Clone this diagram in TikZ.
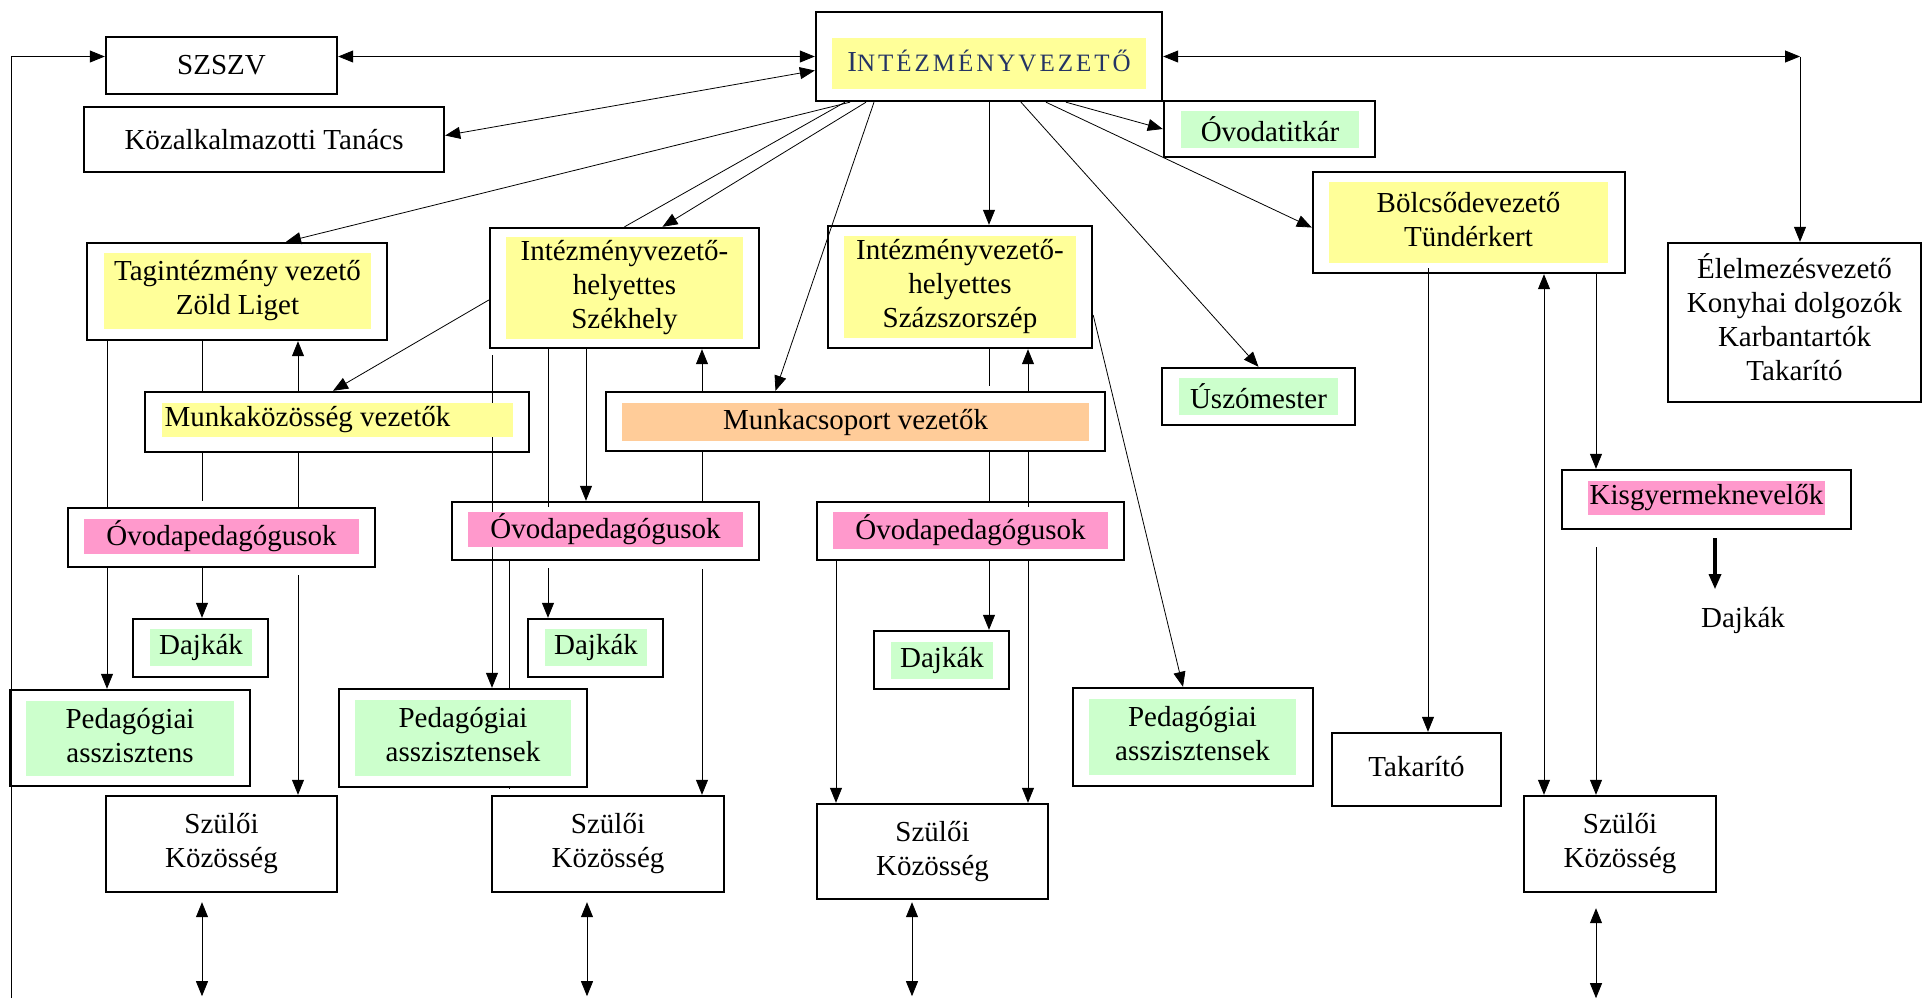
\documentclass[tikz,border=0pt]{standalone}
\usepackage{fontspec}
\setmainfont{Liberation Serif}
\usetikzlibrary{arrows.meta,backgrounds}

\definecolor{hlyellow}{HTML}{FFFF99}
\definecolor{hlgreen}{HTML}{CCFFCC}
\definecolor{hlpink}{HTML}{FF99CC}
\definecolor{hlorange}{HTML}{FFCC99}
\definecolor{ivblue}{RGB}{36,52,100}

\newcommand{\stack}[1]{\begin{tabular}{@{}c@{}}#1\end{tabular}}

\tikzset{
  box/.style 2 args={minimum width=#1*0.5pt, minimum height=#2*0.5pt, inner sep=0pt},
  frame/.style={draw, line width=1.2pt},
  hl/.style={fill=#1},
}

\begin{document}
\begin{tikzpicture}[x=0.5pt, y=-0.5pt, line width=1pt,
  >={Triangle[length=7.5pt,width=6pt]},
  every node/.style={font=\fontsize{14.5}{17}\selectfont}]

  \useasboundingbox (0,0) rectangle (1924,998);

  \foreach \c in {11,107,202,298,492,509,548,586,587,702,836,912,989,1028,1428,1544,1596,1715,1800}
    \coordinate (v\c) at (\c,0);

  % frames
  \node[frame, box={346}{89}] (iv) at (989,56.5) {};
  \node[frame, box={231}{57}] (szszv) at (221.5,65.5) {SZSZV};
  \node[frame, box={360}{65}] (kt) at (264,139.5) {Közalkalmazotti Tanács};
  \node[frame, box={211}{56}] (otitk) at (1269.5,129) {};
  \node[frame, box={312}{101}] (bolcs) at (1469,222.5) {};
  \node[frame, box={253}{159}] (elel) at (1794.5,322.5) {\stack{Élelmezésvezető\\Konyhai dolgozók\\Karbantartók\\Takarító}};
  \node[frame, box={300}{97}] (tag) at (237,291.5) {};
  \node[frame, box={269}{120}] (ivh1) at (624.5,288) {};
  \node[frame, box={264}{122}] (ivh2) at (960,287) {};
  \node[frame, box={193}{57}] (uszo) at (1258.5,396.5) {};
  \node[frame, box={384}{60}] (mkv) at (337,422) {};
  \node[frame, box={499}{59}] (mcs) at (855.5,421.5) {};
  \node[frame, box={307}{59}] (ov1) at (221.5,537.5) {};
  \node[frame, box={307}{58}] (ov2) at (605.5,531) {};
  \node[frame, box={307}{58}] (ov3) at (970.5,531) {};
  \node[frame, box={289}{59}] (kisgy) at (1706.5,499.5) {};
  \node[frame, box={135}{58}] (dajk1) at (200.5,648) {};
  \node[frame, box={135}{58}] (dajk2) at (595.5,648) {};
  \node[frame, box={135}{58}] (dajk3) at (941.5,660) {};
  \node[frame, box={240}{96}] (pa1) at (130,738) {};
  \node[frame, fill=white, box={248}{98}] (pa2) at (463,738) {};
  \node[frame, box={240}{98}] (pa3) at (1193,737) {};
  \node[frame, box={169}{73}] (takar) at (1416.5,769.5) {\raisebox{3pt}{Takarító}};
  \node[frame, box={231}{96}] (sz1) at (221.5,844) {\stack{Szülői\\Közösség}};
  \node[frame, box={232}{96}] (sz2) at (608,844) {\stack{Szülői\\Közösség}};
  \node[frame, box={231}{95}] (sz3) at (932.5,851.5) {\stack{Szülői\\Közösség}};
  \node[frame, box={192}{96}] (sz4) at (1620,844) {\stack{Szülői\\Közösség}};
  \node (dajk4) at (1743,620) {Dajkák};

  % highlighted texts
  \node[hl=hlyellow, box={314}{51}] (iv-t) at (989,63.5)
    {\raisebox{2.5pt}{\color{ivblue}I\fontsize{12.5}{14}\selectfont\addfontfeature{LetterSpace=12}NTÉZMÉNYVEZETŐ}};
  \node[hl=hlgreen, box={178}{37}] (otitk-t) at (1270,129.5) {Óvodatitkár};
  \node[hl=hlyellow, box={279}{81}] (bolcs-t) at (1468.5,222.5) {\stack{Bölcsődevezető\\Tündérkert}};
  \node[hl=hlyellow, box={267}{76}] (tag-t) at (237.5,291) {\stack{Tagintézmény vezető\\Zöld Liget}};
  \node[hl=hlyellow, box={237}{98}] (ivh1-t) at (624.5,288) {\stack{Intézményvezető-\\helyettes\\Székhely}};
  \node[hl=hlyellow, box={232}{100}] (ivh2-t) at (960,287) {\stack{Intézményvezető-\\helyettes\\Százszorszép}};
  \node[hl=hlgreen, box={159}{37}] (uszo-t) at (1258.5,396.5) {Úszómester};
  \node[hl=hlyellow, box={351}{34}] (mkv-t) at (337.5,420) {\makebox[173pt][l]{Munkaközösség vezetők}};
  \node[hl=hlorange, box={467}{38}] (mcs-t) at (855.5,422) {Munkacsoport vezetők};
  \node[hl=hlpink, box={275}{35}] (ov1-t) at (221.5,536.5) {Óvodapedagógusok};
  \node[hl=hlpink, box={275}{35}] (ov2-t) at (605.5,529.5) {Óvodapedagógusok};
  \node[hl=hlpink, box={275}{37}] (ov3-t) at (970.5,530.5) {Óvodapedagógusok};
  \node[hl=hlpink, box={237}{34}] (kisgy-t) at (1706.5,498) {Kisgyermeknevelők};
  \node[hl=hlgreen, box={102}{37}] (dajk1-t) at (201,647.5) {Dajkák};
  \node[hl=hlgreen, box={102}{37}] (dajk2-t) at (596,647.5) {Dajkák};
  \node[hl=hlgreen, box={102}{37}] (dajk3-t) at (942,660.5) {Dajkák};
  \node[hl=hlgreen, box={208}{75}] (pa1-t) at (130,738.5) {\stack{Pedagógiai\\asszisztens}};
  \node[hl=hlgreen, box={216}{76}] (pa2-t) at (463,738) {\stack{Pedagógiai\\asszisztensek}};
  \node[hl=hlgreen, box={207}{76}] (pa3-t) at (1192.5,737) {\stack{Pedagógiai\\asszisztensek}};

  % connectors
  \begin{scope}[on background layer]
    \draw[->] (11,998) -- (v11 |- iv.west) -- (szszv.west |- iv.west);
    \draw[<->] (szszv.east |- iv.west) -- (iv.west);
    \draw[<->] ([yshift=2pt]kt.east) -- ([yshift=-7pt]iv.west);
    \draw[<->] (iv.east) -- (v1800 |- iv.east);
    \draw[->] (v1800 |- iv.east) -- (v1800 |- elel.north);

    \draw[->] ([xshift=-69.5pt]iv.south) -- ([xshift=24.5pt]tag.north);
    \draw ([xshift=-72pt]iv.south) -- (ivh1.north);
    \draw[->] ([xshift=-61.5pt]iv.south) -- ([xshift=19pt]ivh1.north);
    \draw[->] ([xshift=-57.5pt]iv.south) -- ([xshift=-40pt]mcs.north);
    \draw[->] (iv.south) -- (iv.south |- ivh2.north);
    \draw[->] ([xshift=16pt]iv.south) -- (uszo.north);
    \draw[->] ([xshift=28.5pt]iv.south) -- ([yshift=-2.5pt]bolcs.west);
    \draw[->] ([xshift=38.5pt]iv.south) -- (otitk.west);
    \draw[->] ([yshift=-6pt]ivh1.west) -- ([xshift=-2pt]mkv.north);
    \draw[->] ([yshift=-14pt]ivh2.east) -- ([xshift=-5pt]pa3.north);

    % Zöld Liget
    \draw (v107 |- tag.south) -- (v107 |- ov1.north);
    \draw (v202 |- tag.south) -- (v202 |- mkv.north);
    \draw[->] (v298 |- mkv.north) -- (v298 |- tag.south);
    \draw (v202 |- mkv.south) -- ([yshift=3pt]v202 |- ov1.north);
    \draw (v298 |- mkv.south) -- (v298 |- ov1.north);
    \draw[->] (v107 |- ov1.south) -- (v107 |- pa1.north);
    \draw[->] (v202 |- ov1.south) -- (v202 |- dajk1.north);
    \draw[->] ([yshift=-3.5pt]v298 |- ov1.south) -- (v298 |- sz1.north);

    % Székhely
    \draw[->] ([yshift=-3pt]v492 |- ivh1.south) -- (v492 |- pa2.north);
    \draw (v548 |- ivh1.south) -- ([yshift=-3pt]v548 |- ov2.north);
    \draw[->] (v586 |- ivh1.south) -- (v586 |- ov2.north);
    \draw[->] (v702 |- mcs.north) -- (v702 |- ivh1.south);
    \draw (v702 |- mcs.south) -- (v702 |- ov2.north);
    \draw[->] ([yshift=-3.5pt]v548 |- ov2.south) -- (v548 |- dajk2.north);
    \draw (v509 |- ov2.south) -- ([yshift=3pt]v509 |- sz2.north);
    \draw[->] ([yshift=-4pt]v702 |- ov2.south) -- (v702 |- sz2.north);

    % Százszorszép
    \draw (v989 |- ivh2.south) -- ([yshift=2.5pt]v989 |- mcs.north);
    \draw[->] (v1028 |- mcs.north) -- (v1028 |- ivh2.south);
    \draw (v989 |- mcs.south) -- (v989 |- ov3.north);
    \draw (v1028 |- mcs.south) -- ([yshift=-3pt]v1028 |- ov3.north);
    \draw[->] (v989 |- ov3.south) -- (v989 |- dajk3.north);
    \draw[->] (v836 |- ov3.south) -- (v836 |- sz3.north);
    \draw[->] (v1028 |- ov3.south) -- (v1028 |- sz3.north);

    % Tündérkert
    \draw[->] ([yshift=3pt]v1428 |- bolcs.south) -- (v1428 |- takar.north);
    \draw[<->] (v1544 |- bolcs.south) -- (v1544 |- sz4.north);
    \draw[->] (v1596 |- bolcs.south) -- (v1596 |- kisgy.north);
    \draw[->] ([yshift=-8.5pt]v1596 |- kisgy.south) -- (v1596 |- sz4.north);
    \draw[->, line width=1.6pt] ([yshift=-4pt]v1715 |- kisgy.south) -- ([yshift=5pt]v1715 |- dajk4.north);

    % parents
    \draw[<->] ([yshift=-4.5pt]v202 |- sz1.south) -- ++(0,94);
    \draw[<->] ([yshift=-4.5pt]v587 |- sz2.south) -- ++(0,94);
    \draw[<->] ([yshift=-1pt]v912 |- sz3.south) -- ++(0,94);
    \draw[<->] ([yshift=-7.5pt]v1596 |- sz4.south) -- ++(0,90);
  \end{scope}
\end{tikzpicture}
\end{document}
